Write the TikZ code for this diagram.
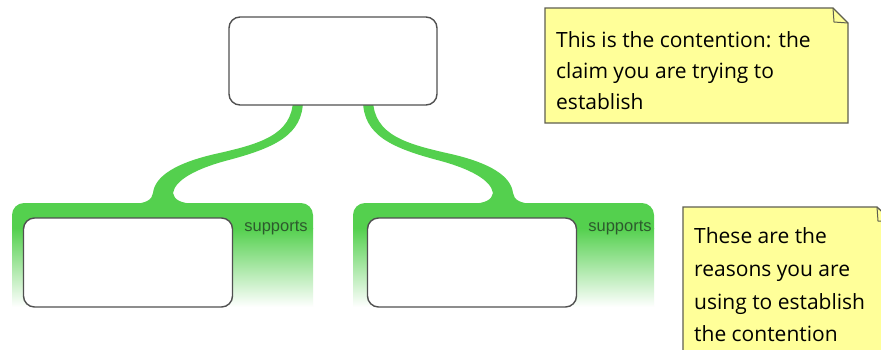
\documentclass[tikz,border=0pt]{standalone}
\usepackage{fontspec}
\setmainfont{Open Sans}
\newfontfamily\arialfont{Liberation Sans}
\definecolor{grn}{RGB}{84,208,78}
\definecolor{notey}{RGB}{255,255,153}
\definecolor{noteb}{RGB}{95,95,80}
\definecolor{boxb}{RGB}{80,80,80}
\definecolor{suptext}{RGB}{45,90,45}
\begin{document}
\begin{tikzpicture}[x=1pt,y=-1pt,
  box/.style={draw=boxb,line width=1.4pt,fill=white,rounded corners=11pt,inner sep=0pt},
  notepath/.style={draw=noteb,line width=1.3pt,fill=notey},
  notetext/.style={anchor=west,align=left,inner sep=0pt,text=black},
  suplabel/.style={font=\arialfont\fontsize{16.5}{16.5}\selectfont,text=suptext,inner sep=0pt}]
\clip (0,0) rectangle (881,349);
\fill[white] (0,0) rectangle (881,349);

% connectors and panels (left, then mirrored right)
\foreach \side in {0,1}{
\begin{scope}[shift={(666*\side,0)}, xscale={1-2*\side}]
  \fill[grn] (293,100) .. controls (292,135) and (260,144) .. (215,154)
     .. controls (176,163) and (155,176) .. (153,193)
     .. controls (152,200) and (146,203) .. (134,204) -- (194,204)
     .. controls (181,203) and (174,200) .. (173,193)
     .. controls (175,180) and (196,169) .. (225,161)
     .. controls (275,148) and (303,135) .. (303,100) -- cycle;
  \fill[grn] (12,229) -- (12,215) arc[start angle=180,end angle=270,radius=12]
     -- (301,203) arc[start angle=270,end angle=360,radius=12] -- (313,229) -- cycle;
  \shade[top color=grn, bottom color=white] (12,228) rectangle (313,307);
\end{scope}
}

\node[box,minimum width=208pt,minimum height=88pt] (claim) at (333,61) {};
\node[box,minimum width=209pt,minimum height=89pt] (r1) at (128,262.5) {};
\node[box,minimum width=209pt,minimum height=89pt] (r2) at (472,262.5) {};
\node[suplabel] (s1) at (276,228) {supports};
\node[suplabel] (s2) at (620,228) {supports};

% note 1
\draw[notepath] (545,8) -- (833,8) -- (848,23) -- (848,123) -- (545,123) -- cycle;
\draw[draw=noteb,line width=1pt] (833,8) -- (834,22) -- (848,23);
\node[notetext,font=\fontsize{21}{31}\selectfont] (n1) at (556,71)
  {This is the contention: the\\claim you are trying to\\establish};

% note 2
\draw[notepath] (683,207) -- (877,207) -- (893,222) -- (893,360) -- (683,360) -- cycle;
\draw[draw=noteb,line width=1pt] (877,207) -- (878,221) -- (893,222);
\node[notetext,font=\fontsize{21}{32.7}\selectfont] (n2) at (694,285)
  {These are the\\reasons you are\\using to establish\\the contention};
\end{tikzpicture}
\end{document}
